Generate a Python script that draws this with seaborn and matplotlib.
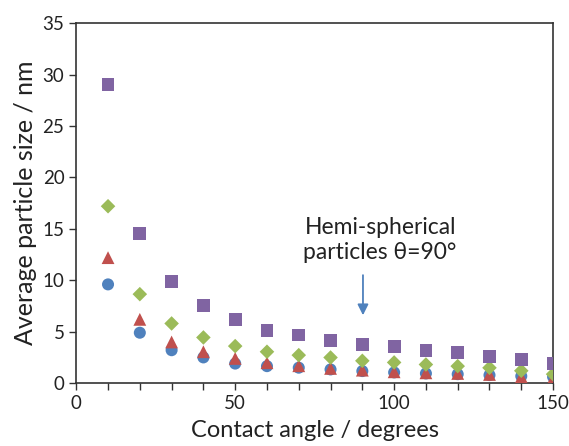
import matplotlib
matplotlib.use('Agg')
import matplotlib.pyplot as plt
from matplotlib.ticker import MultipleLocator
import pandas as pd
import seaborn as sns

# Ángulos de contacto (graus) e tamanhos médios de partícula (nm)
angulos = [10, 20, 30, 40, 50, 60, 70, 80, 90, 100, 110, 120, 130, 140, 150]
serie_circulo = [9.6, 4.9, 3.2, 2.5, 1.9, 1.65, 1.5, 1.33, 1.17, 1.04, 0.94, 0.87, 0.78, 0.68, 0.61]
serie_triangulo = [12.2, 6.2, 4.0, 3.05, 2.4, 1.98, 1.69, 1.43, 1.26, 1.1, 1.0, 0.94, 0.84, 0.61, 0.45]
serie_losango = [17.2, 8.65, 5.8, 4.44, 3.6, 3.05, 2.72, 2.49, 2.17, 2.01, 1.81, 1.65, 1.49, 1.2, 0.87]
serie_quadrado = [29.0, 14.55, 9.85, 7.52, 6.19, 5.15, 4.67, 4.18, 3.79, 3.53, 3.21, 2.95, 2.56, 2.3, 1.91]

sns.set_theme(style='white')
plt.rcParams['font.family'] = ['Lato', 'DejaVu Sans']

fig, ax = plt.subplots(figsize=(5.69, 4.46), dpi=100)
fig.subplots_adjust(left=0.134, right=0.972, top=0.948, bottom=0.141)

series = [
    (serie_circulo, 'o', '#4F81BD', 75),
    (serie_triangulo, '^', '#C0504D', 85),
    (serie_losango, 'D', '#9BBB59', 55),
    (serie_quadrado, 's', '#8064A2', 85),
]
for valores, marcador, cor, tam in series:
    df = pd.DataFrame({'x': angulos, 'y': valores})
    sns.scatterplot(data=df, x='x', y='y', marker=marcador, color=cor, s=tam,
                    edgecolor='none', ax=ax, zorder=3)

ax.set_xlim(0, 150)
ax.set_ylim(0, 35)
ax.xaxis.set_major_locator(MultipleLocator(50))
ax.xaxis.set_minor_locator(MultipleLocator(10))
ax.yaxis.set_major_locator(MultipleLocator(5))
ax.tick_params(axis='both', which='both', direction='out', length=5, width=1,
               color='#333333', labelsize=13.5, labelcolor='#222222')
ax.tick_params(axis='x', which='both', bottom=True)
ax.tick_params(axis='y', which='both', left=True)
for lado in ax.spines.values():
    lado.set_color('#333333')
    lado.set_linewidth(1.2)

ax.set_xlabel('Contact angle / degrees', fontsize=17, color='#222222', labelpad=6)
ax.set_ylabel('Average particle size / nm', fontsize=18, color='#222222', labelpad=4)

ax.annotate('', xy=(90.2, 6.6), xytext=(90.2, 10.5),
            arrowprops=dict(arrowstyle='-|>', color='#4F81BD', lw=1.3,
                            mutation_scale=16, shrinkA=0, shrinkB=0))
ax.text(95.6, 13.9, 'Hemi-spherical\nparticles θ=90°', ha='center', va='center',
        fontsize=16.5, color='#222222', linespacing=1.25)

plt.savefig('out.png', dpi=100)
plt.close()
